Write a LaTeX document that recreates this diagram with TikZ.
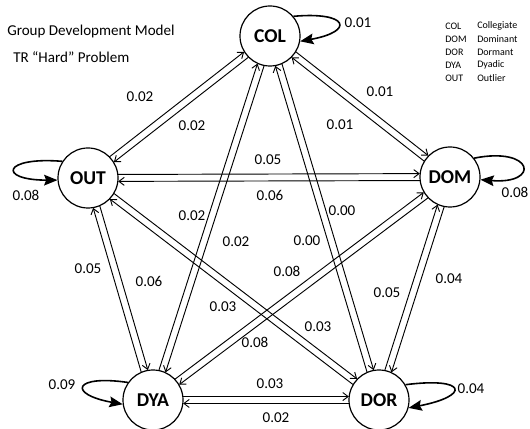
\documentclass[tikz,border=0pt]{standalone}
\usepackage{fontspec}
\setmainfont{Carlito}
\usetikzlibrary{arrows.meta,calc}

\begin{document}
\begin{tikzpicture}[x=0.75pt,y=0.75pt,
  state/.style={circle,draw,line width=0.9pt,minimum size=45pt,inner sep=0pt,
    font=\fontsize{14.7}{16}\selectfont\bfseries},
  flow/.style={line width=0.7pt,-{Straight Barb[length=4pt,width=6pt]},
    shorten <=22.6pt,shorten >=22.6pt},
  selfloop/.style={line width=1.2pt,-{Stealth[length=10pt,width=8pt,inset=1.5pt]}},
  prob/.style={font=\fontsize{11.3}{13}\selectfont,inner sep=1pt},
  key/.style={font=\fontsize{7.5}{9}\selectfont,anchor=west,inner sep=0pt}]
  \useasboundingbox (0,0) rectangle (530,428);

  % Title and abbreviations
  \node[prob,anchor=west,inner sep=0pt] (title) at (7,397) {Group Development Model};
  \node[prob,anchor=west,inner sep=0pt] (subtitle) at (13,371) {TR “Hard” Problem};
  \node[key] (k-col) at (445,402) {COL};
  \node[key] (k-dom) at (445,389) {DOM};
  \node[key] (k-dor) at (445,376) {DOR};
  \node[key] (k-dya) at (445,363) {DYA};
  \node[key] (k-out) at (445,350) {OUT};
  \node[key] (n-col) at (477,402) {Collegiate};
  \node[key] (n-dom) at (477,389) {Dominant};
  \node[key] (n-dor) at (477,376) {Dormant};
  \node[key] (n-dya) at (477,363) {Dyadic};
  \node[key] (n-out) at (477,350) {Outlier};

  % The five states (pentagon)
  \node[state] (COL) at (270,392) {COL};
  \node[state] (OUT) at (88,250) {OUT};
  \node[state] (DOM) at (450,251) {DOM};
  \node[state] (DYA) at (153,28) {DYA};
  \node[state] (DOR) at (379,28) {DOR};

  % Two one-way lines per pair, each on the left of its direction
  \def\gap{2.6pt}
  \foreach \a/\b in {OUT/COL,COL/DOM,OUT/DOM,OUT/DYA,OUT/DOR,
                     COL/DYA,COL/DOR,DYA/DOM,DOM/DOR,DYA/DOR}{
    \draw[flow] ($(\a)!\gap!90:(\b)$) -- ($(\b)!\gap!-90:(\a)$);
    \draw[flow] ($(\b)!\gap!90:(\a)$) -- ($(\a)!\gap!-90:(\b)$);
  }

  % Self transitions
  \draw[selfloop] (COL.40) .. controls +(55,5) and +(55,10) .. (COL.-10);
  \draw[selfloop] (OUT.147) .. controls +(-60,5) and +(-60,0) .. (OUT.184);
  \draw[selfloop] (DOM.38) .. controls +(60,12) and +(60,-5) .. (DOM.-5);
  \draw[selfloop] (DYA.145) .. controls +(-55,8) and +(-55,10) .. (DYA.188);
  \draw[selfloop] (DOR.30) .. controls +(62,8) and +(62,12) .. (DOR.-15);

  % Transition probabilities
  \node[prob] (p-colcol) at (358,405) {0.01};
  \node[prob] (p-outout) at (26,233) {0.08};
  \node[prob] (p-domdom) at (515,236) {0.08};
  \node[prob] (p-dyadya) at (62,43) {0.09};
  \node[prob] (p-dordor) at (471,39) {0.04};
  \node[prob] (p-outcol) at (140,331) {0.02};
  \node[prob] (p-colout) at (192,302) {0.02};
  \node[prob] (p-coldom) at (380,336) {0.01};
  \node[prob] (p-domcol) at (340,303) {0.01};
  \node[prob] (p-outdom) at (268,268) {0.05};
  \node[prob] (p-domout) at (270,233) {0.06};
  \node[prob] (p-dyaout) at (88,159) {0.05};
  \node[prob] (p-outdya) at (149,147) {0.06};
  \node[prob] (p-dyacol) at (192,212) {0.02};
  \node[prob] (p-coldya) at (236,186) {0.02};
  \node[prob] (p-dorcol) at (307,187) {0.00};
  \node[prob] (p-coldor) at (342,217) {0.00};
  \node[prob] (p-dyadom) at (287,157) {0.08};
  \node[prob] (p-domdya) at (255,86) {0.08};
  \node[prob] (p-dorout) at (223,121) {0.03};
  \node[prob] (p-outdor) at (318,101) {0.03};
  \node[prob] (p-dordom) at (387,135) {0.05};
  \node[prob] (p-domdor) at (449,149) {0.04};
  \node[prob] (p-dyador) at (270,44) {0.03};
  \node[prob] (p-dordya) at (276,10) {0.02};
\end{tikzpicture}
\end{document}
